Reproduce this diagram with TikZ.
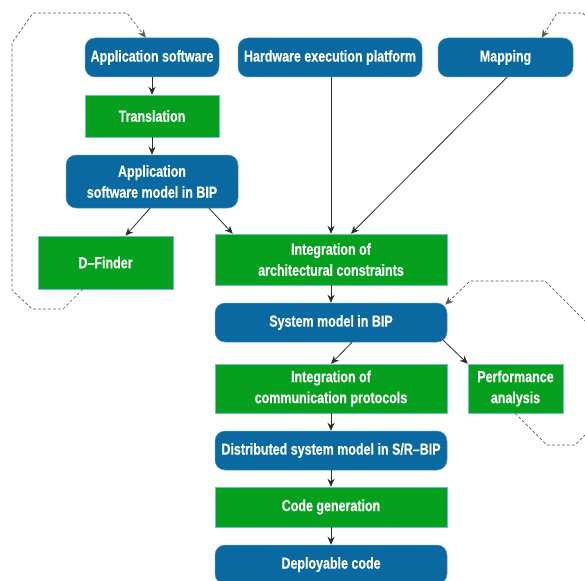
\documentclass[tikz,border=0pt]{standalone}
\usepackage{fontspec}
\setmainfont{Liberation Sans}[FakeStretch=0.78, BoldFeatures={FakeBold=0.4}]
\usetikzlibrary{arrows.meta,calc}
\definecolor{bipblue}{RGB}{10,105,160}
\definecolor{bipgreen}{RGB}{5,160,30}
\definecolor{edgeline}{RGB}{110,190,200}
\definecolor{arrowgray}{RGB}{45,45,45}
\definecolor{dashgray}{RGB}{90,90,90}
\tikzset{
  x=1pt, y=-1pt,
  basebox/.style={text=white, font=\fontsize{16}{21}\selectfont\bfseries, align=center, inner sep=0pt, line width=0.5pt},
  bluebox/.style={basebox, fill=bipblue, draw=bipblue!70!white, rounded corners=10pt},
  greenbox/.style={basebox, fill=bipgreen, draw=edgeline},
  flow/.style={draw=arrowgray, line width=0.8pt, -{Stealth[length=8pt,width=7pt]}},
  loopline/.style={draw=dashgray, line width=0.7pt, dash pattern=on 3pt off 2pt, -{Stealth[length=8pt,width=7pt]}}
}
\begin{document}
\begin{tikzpicture}
\useasboundingbox (0,0) rectangle (585,580);
\clip (0,0) rectangle (585,580);
\node[bluebox, minimum width=134pt, minimum height=39pt] (appsw) at (152,57.5) {Application software};
\node[bluebox, minimum width=184pt, minimum height=39pt] (hw) at (330,57.5) {Hardware execution platform};
\node[bluebox, minimum width=135pt, minimum height=39pt] (map) at (505.5,57.5) {Mapping};
\node[greenbox, minimum width=134pt, minimum height=42pt] (trans) at (152,116) {Translation};
\node[bluebox, minimum width=172pt, minimum height=53pt] (appm) at (152,181.5) {Application\\software model in BIP};
\node[greenbox, minimum width=135pt, minimum height=53pt] (dfind) at (105.5,262.5) {D--Finder};
\node[greenbox, minimum width=232pt, minimum height=51pt] (intarch) at (331,259.5) {Integration of\\architectural constraints};
\node[bluebox, minimum width=232pt, minimum height=39pt] (sys) at (331,322.5) {System model in BIP};
\node[greenbox, minimum width=232pt, minimum height=49pt] (intcomm) at (331,388.5) {Integration of\\communication protocols};
\node[greenbox, minimum width=95pt, minimum height=49pt] (perf) at (515.5,388.5) {Performance\\analysis};
\node[bluebox, minimum width=232pt, minimum height=39pt] (dist) at (331,450.5) {Distributed system model in S/R--BIP};
\node[greenbox, minimum width=232pt, minimum height=40pt] (code) at (331,507) {Code generation};
\node[bluebox, minimum width=232pt, minimum height=39pt] (deploy) at (331,564.5) {Deployable code};

% solid flow arrows
\draw[flow] (appsw) -- (trans);
\draw[flow] (trans) -- (appm);
\draw[flow] ($(appm.south)+(-2,0)$) -- ($(dfind.north)+(20,0)$);
\draw[flow] ($(appm.south)+(57,0)$) -- ($(intarch.north west)+(18,0)$);
\draw[flow] ($(hw.south)+(1,0)$) -- ($(intarch.north)+(0,0)$);
\draw[flow] ($(map.south)+(1.5,0)$) -- ($(intarch.north)+(20,0)$);
\draw[flow] (intarch) -- (sys);
\draw[flow] ($(sys.south)+(21,0)$) -- (intcomm.north);
\draw[flow] ($(sys.south east)+(-4,-2)$) -- (perf.north west);
\draw[flow] (intcomm) -- (dist);
\draw[flow] (dist) -- (code);
\draw[flow] (code) -- (deploy);

% dashed feedback loops
\coordinate (l1s) at ($(dfind.south west)+(45,0)$);
\coordinate (l1e) at ($(appsw.north west)+(61,0)$);
\draw[loopline] (l1s) -- (63,309) -- (32,309) -- (12,290) -- (12,43) -- (33,13) -- (127,13) -- (l1e);
\coordinate (l2e) at ($(map.north west)+(104,0)$);
\draw[loopline] (600,35) -- (583,13) -- (557,13) -- (l2e);
\coordinate (l3s) at ($(perf.south)+(-0.5,0)$);
\coordinate (l3e) at ($(sys.north east)+(-2,2)$);
\draw[loopline] (l3s) -- (547,445) -- (575,445) -- (592,428) -- (592,328) -- (545,281) -- (470,281) -- (l3e);
\end{tikzpicture}
\end{document}
